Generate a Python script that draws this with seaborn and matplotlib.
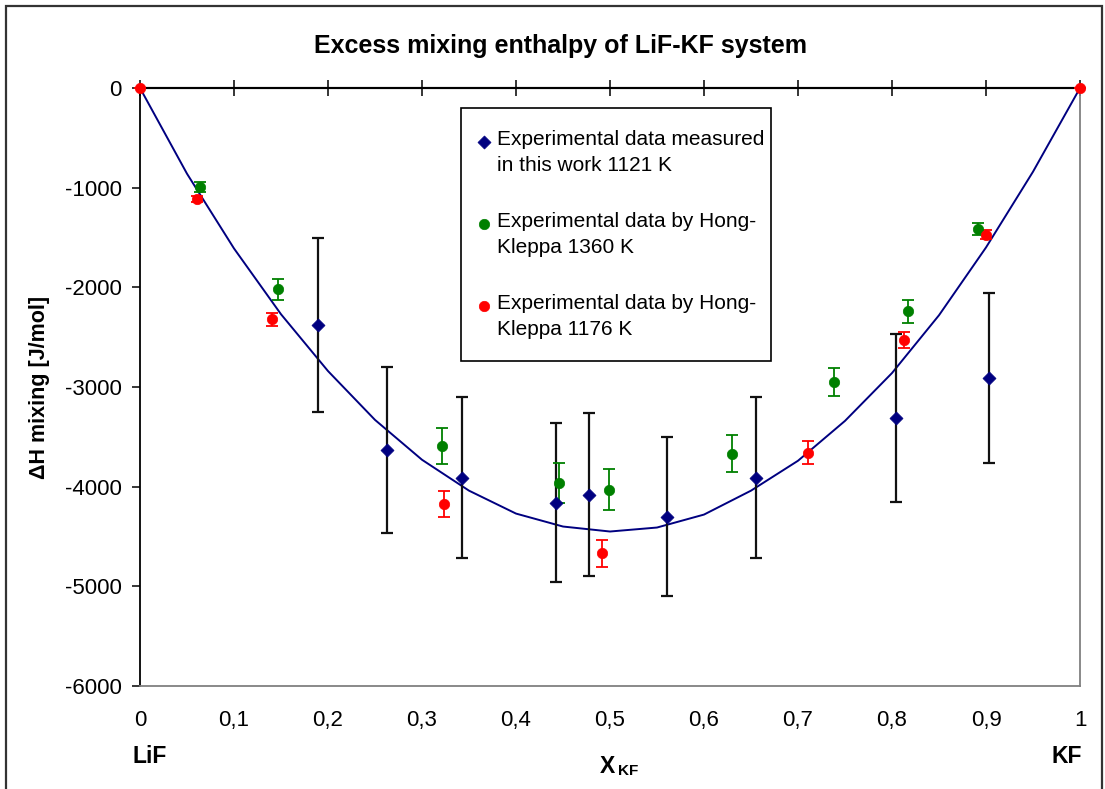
import matplotlib
matplotlib.use("Agg")
import matplotlib.pyplot as plt
import seaborn as sns
from matplotlib.patches import Rectangle

# ---------------- data ----------------
title = "Excess mixing enthalpy of LiF-KF system"
x_ticks = [0, 0.1, 0.2, 0.3, 0.4, 0.5, 0.6, 0.7, 0.8, 0.9, 1.0]
x_tick_labels = ["0", "0,1", "0,2", "0,3", "0,4", "0,5", "0,6", "0,7", "0,8", "0,9", "1"]
y_ticks = [0, -1000, -2000, -3000, -4000, -5000, -6000]
y_tick_labels = ["0", "-1000", "-2000", "-3000", "-4000", "-5000", "-6000"]

curve_x = [0, 0.05, 0.1, 0.15, 0.2, 0.25, 0.3, 0.35, 0.4, 0.45, 0.5,
           0.55, 0.6, 0.65, 0.7, 0.75, 0.8, 0.85, 0.9, 0.95, 1.0]
curve_y = [0, -860, -1610, -2270, -2840, -3330, -3730, -4040, -4270, -4400, -4450,
           -4410, -4280, -4040, -3740, -3340, -2860, -2280, -1600, -840, 0]

work_x = [0.189, 0.263, 0.343, 0.443, 0.478, 0.561, 0.655, 0.804, 0.903]
work_y = [-2380, -3630, -3910, -4160, -4080, -4300, -3910, -3310, -2910]
work_err = [870, 830, 810, 800, 820, 800, 810, 840, 850]

hk1360_x = [0.064, 0.147, 0.321, 0.446, 0.499, 0.630, 0.738, 0.817, 0.891]
hk1360_y = [-990, -2020, -3590, -3960, -4030, -3670, -2950, -2240, -1410]
hk1360_err = [50, 105, 180, 200, 205, 185, 145, 115, 60]

hk1176_x = [0, 0.061, 0.140, 0.323, 0.492, 0.711, 0.813, 0.900, 1.0]
hk1176_y = [0, -1110, -2320, -4170, -4670, -3660, -2530, -1470, 0]
hk1176_err = [0, 30, 65, 130, 135, 115, 80, 50, 0]

labels = ["Experimental data measured\nin this work 1121 K",
          "Experimental data by Hong-\nKleppa 1360 K",
          "Experimental data by Hong-\nKleppa 1176 K"]

# ---------------- style ----------------
sns.set_style("white")
plt.rcParams["font.family"] = ["Liberation Sans", "DejaVu Sans"]
plt.rcParams["axes.unicode_minus"] = False
for key in ("text.color", "axes.labelcolor", "xtick.color", "ytick.color"):
    plt.rcParams[key] = "black"

NAVY, GREEN, RED = "#000080", "#008000", "#FF0000"

fig = plt.figure(figsize=(11.05, 7.89), dpi=100)
ax = fig.add_axes([140 / 1105, 1 - 686 / 789, 940 / 1105, 598 / 789])

# fitted curve
sns.lineplot(x=curve_x, y=curve_y, color=NAVY, linewidth=1.4, ax=ax, zorder=2)

# error bars
ax.errorbar(work_x, work_y, yerr=work_err, fmt="none", ecolor="#111111",
            elinewidth=1.6, capsize=4.5, capthick=1.6, zorder=3)
ax.errorbar(hk1360_x, hk1360_y, yerr=hk1360_err, fmt="none", ecolor=GREEN,
            elinewidth=1.3, capsize=4.5, capthick=1.3, zorder=3)
ax.errorbar(hk1176_x, hk1176_y, yerr=hk1176_err, fmt="none", ecolor=RED,
            elinewidth=1.3, capsize=4.5, capthick=1.3, zorder=3, clip_on=False)

# markers
sns.scatterplot(x=work_x, y=work_y, marker="D", s=44, color=NAVY, edgecolor=NAVY,
                linewidth=0.5, label=labels[0], ax=ax, zorder=4, clip_on=False)
sns.scatterplot(x=hk1360_x, y=hk1360_y, marker="o", s=56, color=GREEN, edgecolor=GREEN,
                linewidth=0.5, label=labels[1], ax=ax, zorder=4, clip_on=False)
sns.scatterplot(x=hk1176_x, y=hk1176_y, marker="o", s=56, color=RED, edgecolor=RED,
                linewidth=0.5, label=labels[2], ax=ax, zorder=5, clip_on=False)

ax.set_xlim(0, 1)
ax.set_ylim(-6000, 0)

# axes appearance
ax.set_yticks(y_ticks)
ax.set_yticklabels(y_tick_labels)
ax.set_xticks(x_ticks)
ax.set_xticklabels(x_tick_labels)
ax.tick_params(axis="x", length=0, pad=17.5, labelsize=16)
ax.tick_params(axis="y", left=True, direction="out", length=6, width=1.1,
               color="black", pad=7, labelsize=16)

sec = ax.secondary_xaxis("top")
sec.set_xticks(x_ticks)
sec.tick_params(direction="inout", length=12, width=1.1, color="black",
                labeltop=False)
sec.spines["top"].set_color("black")
sec.spines["top"].set_linewidth(1.5)

ax.spines["left"].set_color("black")
ax.spines["left"].set_linewidth(1.3)
ax.spines["top"].set_color("black")
ax.spines["top"].set_linewidth(1.5)
for s in ("right", "bottom"):
    ax.spines[s].set_color("#808080")
    ax.spines[s].set_linewidth(1.3)

ax.set_xlabel("")
ax.set_ylabel("ΔH mixing [J/mol]", fontsize=15.5, fontweight="bold")
ax.yaxis.set_label_coords(-0.096, 0.5)

# bottom labels
ax.text(-0.0085, -0.1187, "LiF", transform=ax.transAxes, ha="left", va="center",
        fontsize=16.5, fontweight="bold")
ax.text(1.002, -0.1187, "KF", transform=ax.transAxes, ha="right", va="center",
        fontsize=16.5, fontweight="bold")
ax.text(0.4975, -0.134, "X", transform=ax.transAxes, ha="center", va="center",
        fontsize=16.5, fontweight="bold")
ax.text(0.5085, -0.142, "KF", transform=ax.transAxes, ha="left", va="center",
        fontsize=11, fontweight="bold")

# legend
leg = ax.legend(loc="upper left", bbox_to_anchor=(0.3415, 0.5466, 0.3298, 0.42),
                mode="expand", borderaxespad=0,
                fontsize=15, frameon=True, fancybox=False, edgecolor="black",
                framealpha=1, borderpad=1.05, labelspacing=1.8,
                handlelength=0.5, handletextpad=0.2)
leg.get_frame().set_linewidth(1.2)
for t in leg.get_texts():
    t.set_linespacing(1.45)
    t.set_color("black")
# put the legend markers level with the first text line (as in the original)
for h in leg.legend_handles:
    offs = h.get_offsets().copy()
    offs[:, 1] += 9
    offs[:, 0] -= 3
    h.set_offsets(offs)

# title
fig.text(0.507, 0.9417, title, ha="center", va="center", fontsize=18,
         fontweight="bold")

# outer frame
fig.patches.append(Rectangle((6 / 1105, -0.02), 1096 / 1105, 1 - 6 / 789 + 0.02,
                             transform=fig.transFigure, fill=False,
                             edgecolor="#333333", linewidth=1.6))

fig.savefig("out.png", dpi=100)
